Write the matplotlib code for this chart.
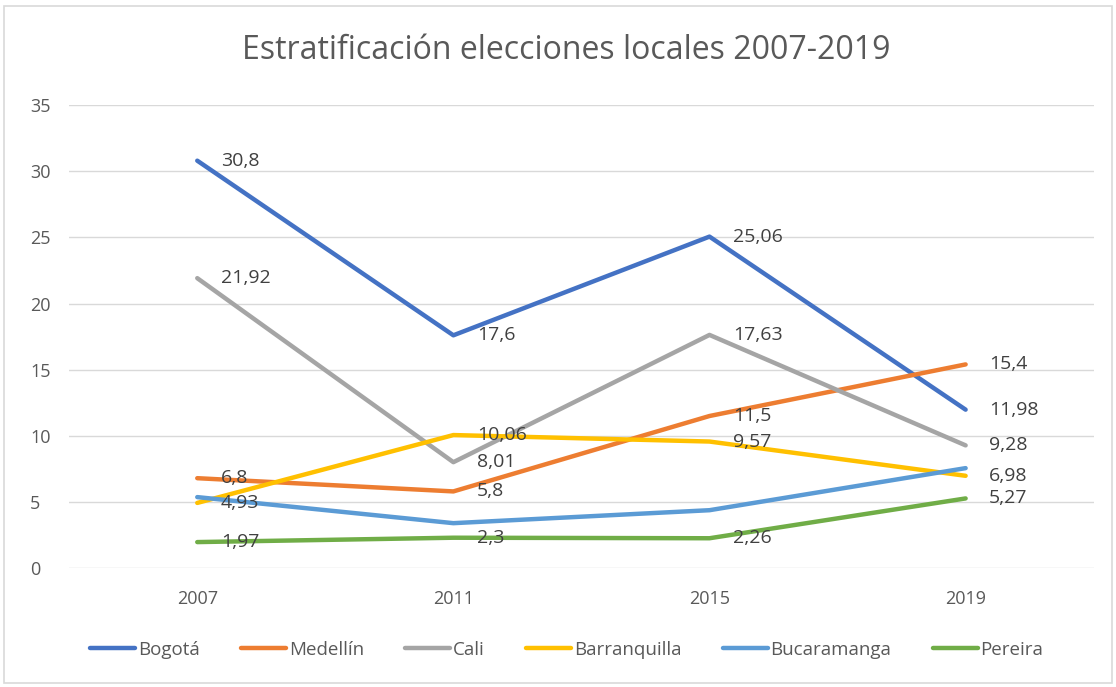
import matplotlib
matplotlib.use("Agg")
import matplotlib.pyplot as plt
from matplotlib.patches import Rectangle

years = ["2007", "2011", "2015", "2019"]
series_names = ["Bogotá", "Medellín", "Cali", "Barranquilla", "Bucaramanga", "Pereira"]
bogota = [30.8, 17.6, 25.06, 11.98]
medellin = [6.8, 5.8, 11.5, 15.4]
cali = [21.92, 8.01, 17.63, 9.28]
barranquilla = [4.93, 10.06, 9.57, 6.98]
bucaramanga = [5.37, 3.4, 4.38, 7.56]
pereira = [1.97, 2.3, 2.26, 5.27]
show_labels = [True, True, True, True, False, True]
colors = ["#4472C4", "#ED7D31", "#A5A5A5", "#FFC000", "#5B9BD5", "#70AD47"]
yticks = [0, 5, 10, 15, 20, 25, 30, 35]

plt.rcParams['font.family'] = ['Open Sans', 'DejaVu Sans']

fig = plt.figure(figsize=(11.16, 6.87), dpi=100)
fig.patches.append(Rectangle((0.004, 0.006), 0.992, 0.985, transform=fig.transFigure,
                             fill=False, edgecolor="#D9D9D9", linewidth=1.2))
ax = fig.add_axes([0.062, 0.173, 0.918, 0.674])

all_series = [bogota, medellin, cali, barranquilla, bucaramanga, pereira]
x = list(range(len(years)))
for name, vals, col, lab in zip(series_names, all_series, colors, show_labels):
    ax.plot(x, vals, color=col, lw=3.2, label=name, solid_capstyle='round', solid_joinstyle='round')
    if lab:
        for xi, v in zip(x, vals):
            txt = ("%g" % v).replace(".", ",")
            ax.annotate(txt, (xi, v), xytext=(17, 0), textcoords="offset points",
                        ha="left", va="center", fontsize=14, color="#404040")

ax.set_xlim(-0.5, 3.5)
ax.set_ylim(0, 35)
ax.set_yticks(yticks)
ax.set_xticks(x)
ax.set_xticklabels(years)
ax.grid(axis="y", color="#D9D9D9", lw=1)
ax.set_axisbelow(True)
for s in ax.spines.values():
    s.set_visible(False)
ax.tick_params(axis="both", length=0, labelsize=13, labelcolor="#595959")
ax.tick_params(axis="y", pad=28)
ax.tick_params(axis="x", pad=16)
for lbl in ax.get_yticklabels():
    lbl.set_horizontalalignment("left")

fig.text(0.507, 0.927, "Estratificación elecciones locales 2007-2019", ha="center", va="center",
         fontsize=23, color="#595959")

fig.legend(loc="center", bbox_to_anchor=(0.508, 0.054), ncol=6, frameon=False,
           fontsize=13.5, handlelength=2.4, handletextpad=0.15, columnspacing=2.2,
           labelcolor="#595959")

fig.savefig("out.png", dpi=100)
